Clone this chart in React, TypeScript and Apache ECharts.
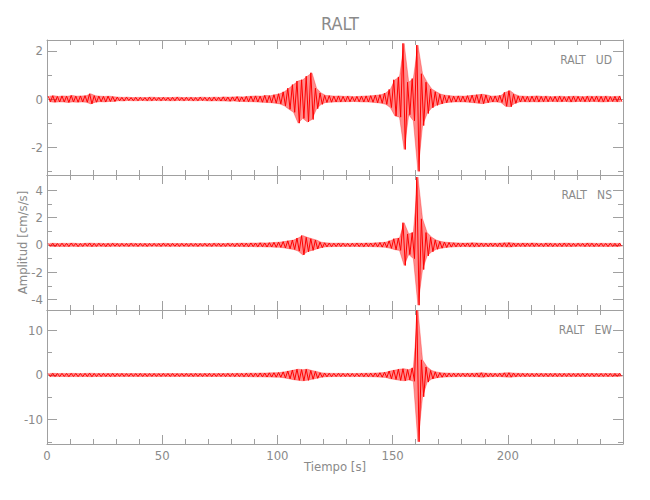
import React, { useEffect, useRef } from "react";
import * as echarts from "echarts";

// Seismogram envelopes: one value per 2-second bin (0–250 s).
const binSeconds = 2;
const timeMin = 0;
const timeMax = 250;
const timeTicks = 50;

const udHi = [
  0.12, 0.14, 0.11, 0.13, 0.12, 0.15, 0.12, 0.13, 0.14, 0.22,
  0.14, 0.12, 0.11, 0.12, 0.10, 0.08, 0.07, 0.08, 0.06, 0.07,
  0.07, 0.06, 0.08, 0.07, 0.06, 0.07, 0.06, 0.07, 0.08, 0.06,
  0.07, 0.07, 0.06, 0.08, 0.07, 0.07, 0.08, 0.07, 0.09, 0.08,
  0.09, 0.10, 0.09, 0.11, 0.12, 0.13, 0.12, 0.15, 0.14, 0.18,
  0.22, 0.30, 0.45, 0.60, 0.75, 0.80, 0.95, 1.09, 0.45, 0.25,
  0.15, 0.14, 0.12, 0.13, 0.11, 0.12, 0.10, 0.11, 0.12, 0.13,
  0.14, 0.16, 0.18, 0.25, 0.40, 0.80, 0.92, 2.31, 0.70, 0.85,
  2.24, 1.05, 0.70, 0.42, 0.30, 0.20, 0.16, 0.14, 0.12, 0.13,
  0.12, 0.14, 0.16, 0.18, 0.20, 0.17, 0.12, 0.13, 0.15, 0.28,
  0.35, 0.20, 0.13, 0.12, 0.11, 0.12, 0.13, 0.11, 0.12, 0.10,
  0.11, 0.12, 0.10, 0.11, 0.12, 0.11, 0.10, 0.12, 0.11, 0.12,
  0.11, 0.12, 0.10, 0.11, 0.12,
];
const udLo = [
  -0.11, -0.13, -0.12, -0.12, -0.14, -0.12, -0.13, -0.12, -0.13, -0.20,
  -0.13, -0.11, -0.12, -0.10, -0.10, -0.07, -0.08, -0.06, -0.07, -0.07,
  -0.06, -0.07, -0.07, -0.06, -0.07, -0.06, -0.07, -0.07, -0.06, -0.07,
  -0.06, -0.07, -0.07, -0.06, -0.07, -0.08, -0.07, -0.08, -0.08, -0.09,
  -0.08, -0.10, -0.10, -0.11, -0.11, -0.12, -0.13, -0.14, -0.15, -0.17,
  -0.20, -0.28, -0.42, -0.55, -1.00, -0.80, -0.95, -0.85, -0.40, -0.22,
  -0.14, -0.13, -0.12, -0.12, -0.11, -0.11, -0.10, -0.11, -0.12, -0.12,
  -0.13, -0.15, -0.17, -0.22, -0.35, -0.70, -0.75, -2.09, -0.65, -0.90,
  -3.00, -1.10, -0.60, -0.36, -0.26, -0.20, -0.15, -0.13, -0.12, -0.12,
  -0.12, -0.13, -0.15, -0.17, -0.19, -0.15, -0.12, -0.12, -0.14, -0.30,
  -0.32, -0.18, -0.12, -0.11, -0.12, -0.11, -0.12, -0.11, -0.11, -0.10,
  -0.11, -0.11, -0.10, -0.12, -0.11, -0.10, -0.11, -0.11, -0.10, -0.11,
  -0.12, -0.11, -0.10, -0.11, -0.11,
];
const nsHi = [
  0.11, 0.12, 0.10, 0.12, 0.11, 0.13, 0.11, 0.10, 0.12, 0.13,
  0.11, 0.12, 0.10, 0.11, 0.12, 0.10, 0.11, 0.10, 0.12, 0.10,
  0.11, 0.10, 0.10, 0.11, 0.10, 0.12, 0.10, 0.11, 0.10, 0.11,
  0.10, 0.11, 0.10, 0.10, 0.11, 0.10, 0.12, 0.11, 0.10, 0.12,
  0.11, 0.12, 0.13, 0.12, 0.14, 0.13, 0.15, 0.14, 0.16, 0.18,
  0.20, 0.24, 0.30, 0.35, 0.50, 0.68, 0.55, 0.45, 0.35, 0.20,
  0.15, 0.13, 0.12, 0.13, 0.12, 0.11, 0.12, 0.13, 0.12, 0.14,
  0.13, 0.15, 0.17, 0.20, 0.30, 0.45, 0.50, 1.62, 0.80, 0.90,
  4.95, 1.90, 0.90, 0.55, 0.35, 0.25, 0.20, 0.17, 0.15, 0.14,
  0.13, 0.14, 0.15, 0.14, 0.13, 0.12, 0.13, 0.12, 0.14, 0.15,
  0.16, 0.13, 0.12, 0.13, 0.12, 0.14, 0.12, 0.11, 0.13, 0.12,
  0.11, 0.12, 0.13, 0.12, 0.11, 0.12, 0.11, 0.13, 0.12, 0.11,
  0.12, 0.11, 0.12, 0.11, 0.12,
];
const nsLo = [
  -0.10, -0.12, -0.11, -0.11, -0.12, -0.10, -0.12, -0.11, -0.10, -0.12,
  -0.11, -0.10, -0.12, -0.11, -0.10, -0.11, -0.10, -0.11, -0.10, -0.11,
  -0.10, -0.11, -0.10, -0.10, -0.11, -0.10, -0.11, -0.10, -0.11, -0.10,
  -0.11, -0.10, -0.11, -0.10, -0.10, -0.11, -0.10, -0.11, -0.11, -0.10,
  -0.12, -0.11, -0.12, -0.13, -0.12, -0.14, -0.13, -0.15, -0.15, -0.17,
  -0.18, -0.22, -0.28, -0.33, -0.45, -0.73, -0.50, -0.40, -0.30, -0.20,
  -0.14, -0.13, -0.12, -0.12, -0.11, -0.12, -0.11, -0.12, -0.13, -0.12,
  -0.13, -0.14, -0.16, -0.18, -0.25, -0.35, -0.40, -1.50, -0.70, -1.00,
  -4.40, -1.80, -0.80, -0.50, -0.32, -0.24, -0.19, -0.16, -0.14, -0.13,
  -0.12, -0.13, -0.14, -0.13, -0.12, -0.12, -0.11, -0.12, -0.13, -0.14,
  -0.15, -0.12, -0.11, -0.12, -0.11, -0.12, -0.11, -0.12, -0.11, -0.12,
  -0.11, -0.12, -0.11, -0.12, -0.11, -0.10, -0.12, -0.11, -0.12, -0.11,
  -0.11, -0.12, -0.11, -0.12, -0.11,
];
const ewHi = [
  0.35, 0.38, 0.33, 0.36, 0.34, 0.37, 0.35, 0.33, 0.36, 0.40,
  0.35, 0.34, 0.36, 0.33, 0.35, 0.32, 0.34, 0.31, 0.33, 0.32,
  0.34, 0.31, 0.32, 0.33, 0.31, 0.34, 0.32, 0.33, 0.31, 0.32,
  0.33, 0.32, 0.34, 0.31, 0.33, 0.35, 0.32, 0.34, 0.33, 0.36,
  0.35, 0.37, 0.36, 0.40, 0.42, 0.40, 0.45, 0.43, 0.48, 0.50,
  0.55, 0.70, 0.90, 1.10, 1.30, 1.20, 1.30, 1.00, 0.80, 0.50,
  0.42, 0.38, 0.36, 0.37, 0.35, 0.36, 0.34, 0.36, 0.38, 0.40,
  0.42, 0.45, 0.50, 0.60, 0.90, 1.10, 1.30, 1.40, 1.20, 1.60,
  14.50, 3.40, 1.80, 1.00, 0.70, 0.50, 0.45, 0.42, 0.40, 0.38,
  0.37, 0.38, 0.40, 0.45, 0.50, 0.42, 0.38, 0.36, 0.40, 0.48,
  0.50, 0.42, 0.37, 0.36, 0.35, 0.34, 0.36, 0.35, 0.33, 0.34,
  0.35, 0.33, 0.34, 0.36, 0.33, 0.34, 0.35, 0.33, 0.34, 0.32,
  0.33, 0.34, 0.32, 0.33, 0.34,
];
const ewLo = [
  -0.34, -0.36, -0.35, -0.33, -0.37, -0.34, -0.36, -0.35, -0.34, -0.38,
  -0.34, -0.35, -0.33, -0.35, -0.34, -0.31, -0.33, -0.32, -0.31, -0.33,
  -0.32, -0.33, -0.31, -0.32, -0.33, -0.31, -0.33, -0.32, -0.32, -0.31,
  -0.32, -0.33, -0.32, -0.33, -0.31, -0.34, -0.33, -0.32, -0.35, -0.34,
  -0.36, -0.35, -0.38, -0.37, -0.40, -0.42, -0.41, -0.45, -0.46, -0.48,
  -0.50, -0.65, -0.85, -1.05, -1.20, -1.30, -1.20, -0.95, -0.75, -0.50,
  -0.40, -0.37, -0.35, -0.36, -0.34, -0.35, -0.36, -0.34, -0.37, -0.39,
  -0.40, -0.43, -0.48, -0.55, -0.85, -1.00, -1.20, -1.30, -1.10, -1.40,
  -15.00, -4.90, -1.60, -0.90, -0.65, -0.50, -0.45, -0.40, -0.38, -0.36,
  -0.36, -0.37, -0.39, -0.43, -0.48, -0.40, -0.37, -0.35, -0.38, -0.46,
  -0.48, -0.40, -0.36, -0.35, -0.34, -0.35, -0.34, -0.33, -0.35, -0.33,
  -0.34, -0.35, -0.33, -0.34, -0.35, -0.33, -0.34, -0.32, -0.33, -0.34,
  -0.32, -0.33, -0.34, -0.32, -0.33,
];

const components = ["UD", "NS", "EW"];
const yRanges = [
  [-3.15, 2.45],
  [-4.75, 5.1],
  [-15.5, 14.6],
];
const yMajorTicks = [
  [-2, 0, 2],
  [-4, -2, 0, 2, 4],
  [-10, 0, 10],
];
const yMinorTicks = [
  [-3, -1, 1],
  [-3, -1, 1, 3],
  [-15, -5, 5],
];

const FONT = "'DejaVu Sans Condensed', 'Liberation Sans Narrow', sans-serif";
const AXIS_COLOR = "#a0a0a0";
const TEXT_COLOR = "#8a8a8a";
const TRACE_COLOR = "#ff0000";

// zigzag between the bin's positive and negative peak
function toTrace(hi: number[], lo: number[]) {
  const pts: number[][] = [];
  hi.forEach((h, k) => {
    pts.push([k * binSeconds + binSeconds * 0.25, h]);
    pts.push([k * binSeconds + binSeconds * 0.75, lo[k]]);
  });
  return pts;
}
// envelope points at bin centres
function toEnvelope(vals: number[]) {
  return vals.map((v, k) => [k * binSeconds + binSeconds * 0.5, v]);
}

export default function App() {
  const ref = useRef<HTMLDivElement>(null);
  useEffect(() => {
    if (!ref.current) return;
    const chart = echarts.init(ref.current, null, { renderer: "svg" });
    const his = [udHi, nsHi, ewHi];
    const los = [udLo, nsLo, ewLo];
    const grids = [
      { left: 47, top: 40, width: 576, height: 135 },
      { left: 47, top: 175, width: 576, height: 135 },
      { left: 47, top: 310, width: 576, height: 134 },
    ];
    const lineStyle = { color: AXIS_COLOR, width: 1 };
    const xAxis: any[] = [];
    const yAxis: any[] = [];
    grids.forEach((_, i) => {
      ["bottom", "top"].forEach((pos) => {
        const isLabelled = i === 2 && pos === "bottom";
        xAxis.push({
          type: "value",
          gridIndex: i,
          position: pos,
          min: timeMin,
          max: timeMax,
          interval: timeTicks,
          axisLine: { show: true, onZero: false, lineStyle },
          axisTick: { show: true, inside: true, length: 9, lineStyle },
          minorTick: { show: true, splitNumber: 5, length: 5, lineStyle },
          splitLine: { show: false },
          minorSplitLine: { show: false },
          axisLabel: {
            show: isLabelled,
            margin: 5,
            color: TEXT_COLOR,
            fontFamily: FONT,
            fontSize: 13,
            showMaxLabel: false,
          },
          name: isLabelled ? "Tiempo [s]" : "",
          nameLocation: "middle",
          nameGap: 16,
          nameMoveOverlap: false,
          nameTextStyle: { color: TEXT_COLOR, fontFamily: FONT, fontSize: 13 },
        });
      });
      ["left", "right"].forEach((pos) => {
        const [mn, mx] = yRanges[i];
        yAxis.push({
          type: "value",
          gridIndex: i,
          position: pos,
          min: mn,
          max: mx,
          axisLine: { show: true, onZero: false, lineStyle },
          axisTick: {
            show: true,
            inside: true,
            length: 10,
            lineStyle,
            customValues: yMajorTicks[i],
          },
          axisLabel: {
            show: pos === "left",
            customValues: yMajorTicks[i],
            margin: 4,
            color: TEXT_COLOR,
            fontFamily: FONT,
            fontSize: 13,
          },
          splitLine: { show: false },
          name: pos === "left" && i === 1 ? "Amplitud [cm/s/s]" : "",
          nameLocation: "middle",
          nameGap: 18,
          nameMoveOverlap: false,
          nameTextStyle: { color: TEXT_COLOR, fontFamily: FONT, fontSize: 13 },
        });
        yAxis.push({
          type: "value",
          gridIndex: i,
          position: pos,
          min: mn,
          max: mx,
          axisLine: { show: false, onZero: false },
          axisTick: {
            show: true,
            inside: true,
            length: 5,
            lineStyle,
            customValues: yMinorTicks[i],
          },
          axisLabel: { show: false },
          splitLine: { show: false },
        });
      });
    });

    const series: any[] = [];
    components.forEach((c, i) => {
      [his[i], los[i]].forEach((vals, j) => {
        series.push({
          type: "line",
          name: c + (j === 0 ? " +" : " -"),
          xAxisIndex: i * 2,
          yAxisIndex: i * 4,
          data: toEnvelope(vals),
          showSymbol: false,
          symbol: "none",
          lineStyle: { color: TRACE_COLOR, width: 0.5, opacity: 0.6 },
          areaStyle: { color: TRACE_COLOR, opacity: 0.45, origin: 0 },
          clip: true,
          z: 2,
        });
      });
      series.push({
        type: "line",
        name: c,
        xAxisIndex: i * 2,
        yAxisIndex: i * 4,
        data: toTrace(his[i], los[i]),
        showSymbol: false,
        symbol: "none",
        lineStyle: { color: TRACE_COLOR, width: 1 },
        clip: true,
        z: 3,
      });
    });

    const panelLabelY = [62, 197, 332];
    chart.setOption({
      animation: false,
      backgroundColor: "#ffffff",
      title: {
        text: "RALT",
        left: 335,
        top: 9,
        textAlign: "center",
        textStyle: { color: TEXT_COLOR, fontFamily: FONT, fontSize: 18, fontWeight: "normal" },
      },
      grid: grids,
      xAxis,
      yAxis,
      series,
      graphic: components.map((c, i) => ({
        type: "text",
        right: 38,
        top: panelLabelY[i] - 8,
        style: {
          text: "RALT   " + c,
          fill: TEXT_COLOR,
          font: `12px ${FONT}`,
        },
      })),
    });
    return () => chart.dispose();
  }, []);
  return (
    <div
      ref={ref}
      style={{ position: "fixed", left: 0, top: 0, width: 650, height: 500, background: "#fff" }}
    />
  );
}
